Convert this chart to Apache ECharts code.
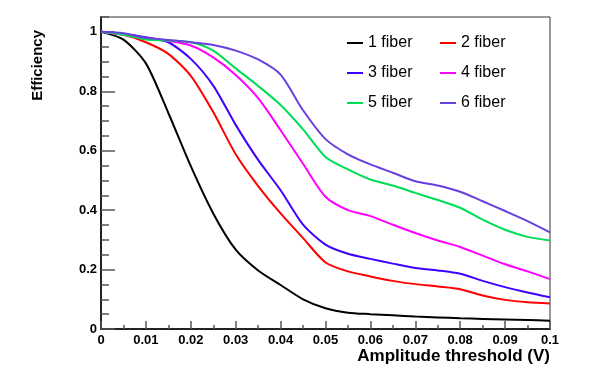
<!DOCTYPE html>
<html>
<head>
<meta charset="utf-8">
<script src="https://cdn.jsdelivr.net/npm/echarts@6/dist/echarts.min.js"></script>
<style>
  html, body { margin: 0; padding: 0; background: #fff; }
  #chart { width: 598px; height: 375px; }
</style>
</head>
<body>
<div id="chart"></div>
<script>
// amplitude threshold (V)
var thresholds = [0, 0.005, 0.01, 0.015, 0.02, 0.025, 0.03, 0.035, 0.04, 0.045, 0.05,
  0.055, 0.06, 0.065, 0.07, 0.075, 0.08, 0.085, 0.09, 0.095, 0.1]

var fiber1 = [1.0, 0.974, 0.894, 0.727, 0.548, 0.389, 0.267, 0.197, 0.148, 0.1, 0.07,
  0.055, 0.05, 0.046, 0.042, 0.039, 0.036, 0.034, 0.032, 0.03, 0.028]
var fiber2 = [1.0, 0.99, 0.965, 0.926, 0.852, 0.73, 0.588, 0.481, 0.389, 0.306, 0.224,
  0.194, 0.177, 0.162, 0.151, 0.143, 0.134, 0.113, 0.098, 0.09, 0.086]
var fiber3 = [1.0, 0.993, 0.982, 0.965, 0.909, 0.819, 0.687, 0.569, 0.467, 0.351, 0.284,
  0.253, 0.236, 0.22, 0.205, 0.197, 0.186, 0.162, 0.141, 0.123, 0.107]
var fiber4 = [1.0, 0.99, 0.979, 0.969, 0.954, 0.914, 0.855, 0.777, 0.669, 0.556, 0.445,
  0.40, 0.38, 0.351, 0.323, 0.298, 0.276, 0.247, 0.218, 0.194, 0.168]
var fiber5 = [1.0, 0.99, 0.974, 0.971, 0.965, 0.937, 0.877, 0.818, 0.754, 0.672, 0.579,
  0.537, 0.503, 0.483, 0.458, 0.434, 0.408, 0.368, 0.334, 0.31, 0.298]
var fiber6 = [1.0, 0.995, 0.98, 0.973, 0.965, 0.956, 0.937, 0.907, 0.856, 0.736, 0.639,
  0.588, 0.554, 0.526, 0.497, 0.483, 0.462, 0.43, 0.397, 0.363, 0.325]

var names = ['1 fiber', '2 fiber', '3 fiber', '4 fiber', '5 fiber', '6 fiber']
var colors = ['#000000', '#ff0000', '#4000ff', '#ff00ff', '#00dd55', '#6a3fe0']
var values = [fiber1, fiber2, fiber3, fiber4, fiber5, fiber6]

var font = '"Liberation Sans", Arial, Helvetica, sans-serif'

var chart = echarts.init(document.getElementById('chart'))

var series = values.map(function (vals, i) {
  return {
    name: names[i],
    type: 'line',
    smooth: 0.25,
    showSymbol: false,
    animation: false,
    data: thresholds.map(function (x, j) { return [x, vals[j]] }),
    lineStyle: { color: colors[i], width: 2 },
    itemStyle: { color: colors[i] }
  }
})

var option = {
  backgroundColor: '#fff',
  animation: false,
  grid: {
    left: 101, right: 48, top: 17, bottom: 46,
    show: true, borderColor: '#333', borderWidth: 1
  },
  legend: {
    left: 347, top: 34, width: 190, padding: 0,
    icon: 'rect', itemWidth: 16, itemHeight: 2, itemGap: 12,
    data: names,
    textStyle: { fontFamily: font, fontSize: 16, color: '#000', width: 60, lineHeight: 18 }
  },
  xAxis: {
    type: 'value', min: 0, max: 0.1, interval: 0.01,
    axisLine: { show: true, lineStyle: { color: '#222', width: 2 } },
    axisTick: { show: true, inside: true, length: 8, lineStyle: { color: '#555', width: 1.5 } },
    minorTick: { show: true, splitNumber: 2, length: 4, lineStyle: { color: '#555', width: 1.5 } },
    splitLine: { show: false },
    axisLabel: { fontFamily: font, fontSize: 13, fontWeight: 'bold', color: '#000', margin: 5 }
  },
  yAxis: [{
    type: 'value', min: 0, max: 1.05, interval: 0.2, position: 'left',
    axisLine: { show: true, lineStyle: { color: '#222', width: 2 } },
    axisTick: { show: true, inside: true, length: 14, lineStyle: { color: '#555', width: 1.5 } },
    splitLine: { show: false },
    axisLabel: { fontFamily: font, fontSize: 13, fontWeight: 'bold', color: '#000', margin: 4, showMaxLabel: false }
  }, {
    // minor ticks every 0.05
    type: 'value', min: 0, max: 1.05, interval: 0.05, position: 'left', offset: 0,
    axisLine: { show: false },
    axisTick: { show: true, inside: true, length: 8, lineStyle: { color: '#555', width: 1.5 } },
    splitLine: { show: false },
    axisLabel: { show: false }
  }],
  graphic: [{
    type: 'text', x: 550, y: 356,
    style: { text: 'Amplitude threshold (V)', align: 'right', verticalAlign: 'middle',
      font: 'bold 17px ' + font, fill: '#000' }
  }, {
    type: 'text', x: 38, y: 30, rotation: Math.PI / 2,
    style: { text: 'Efficiency', align: 'right', verticalAlign: 'middle',
      font: 'bold 15px ' + font, fill: '#000' }
  }],
  series: series
}

chart.setOption(option)
</script>
</body>
</html>
